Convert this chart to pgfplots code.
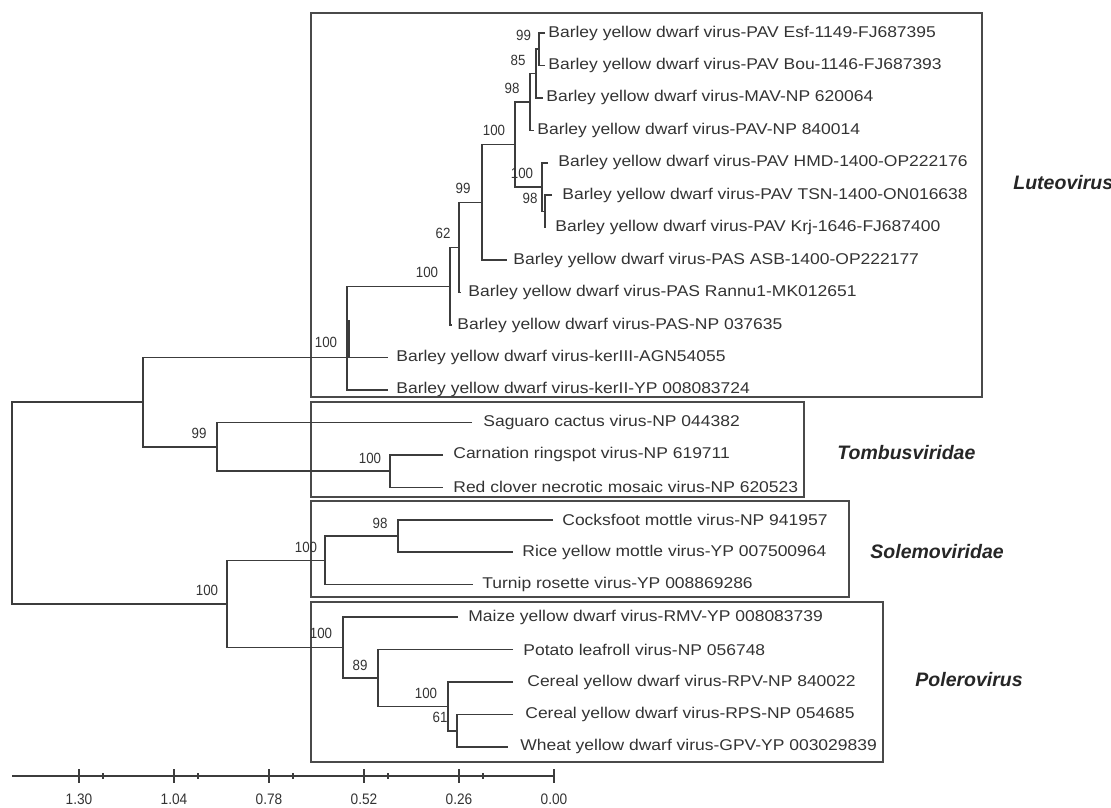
\documentclass[border=0pt]{standalone}
\usepackage{fontspec}
\setmainfont{Liberation Sans}
\newfontfamily\taxafont{Liberation Sans}[FakeStretch=1.12]
\newfontfamily\numfont{Liberation Sans}[FakeStretch=0.9]
\usepackage{pgfplots}
\pgfplotsset{compat=1.18}
\definecolor{treeline}{HTML}{3C3C3C}
\definecolor{boxline}{HTML}{4A4A4A}
\definecolor{txt}{HTML}{333333}
\pgfplotsset{
  tree/.style={draw=treeline, line width=0.8pt, mark=none, forget plot},
  cladebox/.style={draw=boxline, line width=1pt, mark=none, forget plot},
}
\tikzset{
  taxon/.style={anchor=west, inner sep=0pt, font=\taxafont\fontsize{7.8}{9}\selectfont, text=txt},
  boot/.style={inner sep=0pt, font=\numfont\fontsize{7.4}{8}\selectfont, text=txt},
  clade/.style={anchor=west, inner sep=0pt, font=\fontsize{9.75}{11}\selectfont\bfseries\itshape, text=black!85},
}
\begin{document}
\begin{tikzpicture}
\useasboundingbox (0,0) rectangle (555.5pt,403.5pt);
\begin{axis}[
  at={(0,0)}, anchor=south west,
  scale only axis, width=555.5pt, height=403.5pt,
  xmin=0, xmax=1111, ymin=0, ymax=807, y dir=reverse,
  hide axis, clip=false,
]
% clade boxes
\addplot[cladebox] coordinates {(311,13) (982,13) (982,397) (311,397)} --cycle;
\addplot[cladebox] coordinates {(311,402) (804,402) (804,497) (311,497)} --cycle;
\addplot[cladebox] coordinates {(311,501) (849,501) (849,597) (311,597)} --cycle;
\addplot[cladebox] coordinates {(311,602) (883,602) (883,762) (311,762)} --cycle;
% tree: each node drawn as child1 -> node -> child2
\addplot[tree] coordinates {(545,33) (539,33) (539,65.45) (545,65.45)};
\addplot[tree] coordinates {(539,49.2) (536,49.2) (536,97.9) (543,97.9)};
\addplot[tree] coordinates {(536,73.55) (530,73.55) (530,130.35) (534,130.35)};
\addplot[tree] coordinates {(552,195.25) (545,195.25) (545,227.7) (546,227.7)};
\addplot[tree] coordinates {(548,162.8) (542,162.8) (542,211.5) (545,211.5)};
\addplot[tree] coordinates {(530,101.95) (515,101.95) (515,187.15) (542,187.15)};
\addplot[tree] coordinates {(515,144.55) (482,144.55) (482,260.15) (507,260.15)};
\addplot[tree] coordinates {(482,202.35) (459,202.35) (459,292.6) (461,292.6)};
\addplot[tree] coordinates {(459,247.5) (450,247.5) (450,325.05) (452,325.05)};
\addplot[tree] coordinates {(450,286.3) (347,286.3) (347,389.95) (388,389.95)};
\addplot[tree] coordinates {(347,357.5) (388,357.5)};
\addplot[tree] coordinates {(349,320) (349,357.5)};
\addplot[tree] coordinates {(347,357.5) (143,357.5) (143,446.75) (217,446.75)};
\addplot[tree] coordinates {(472,422.4) (217,422.4) (217,471.1) (390,471.1)};
\addplot[tree] coordinates {(443,454.85) (390,454.85) (390,487.3) (443,487.3)};
\addplot[tree] coordinates {(143,402.1) (12,402.1) (12,603.9) (227,603.9)};
\addplot[tree] coordinates {(325,560.3) (227,560.3) (227,647.5) (343,647.5)};
\addplot[tree] coordinates {(398,535.95) (325,535.95) (325,584.65) (473,584.65)};
\addplot[tree] coordinates {(553,519.75) (398,519.75) (398,552.2) (513,552.2)};
\addplot[tree] coordinates {(458,617.1) (343,617.1) (343,677.95) (378,677.95)};
\addplot[tree] coordinates {(513,649.55) (378,649.55) (378,706.35) (448,706.35)};
\addplot[tree] coordinates {(513,682) (448,682) (448,730.7) (457,730.7)};
\addplot[tree] coordinates {(513,714.45) (457,714.45) (457,746.9) (508,746.9)};
% taxa
\node[taxon] at (axis cs:548,33) {Barley yellow dwarf virus-PAV Esf-1149-FJ687395};
\node[taxon] at (axis cs:548,65.45) {Barley yellow dwarf virus-PAV Bou-1146-FJ687393};
\node[taxon] at (axis cs:546,97.9) {Barley yellow dwarf virus-MAV-NP 620064};
\node[taxon] at (axis cs:537,130.35) {Barley yellow dwarf virus-PAV-NP 840014};
\node[taxon] at (axis cs:558,162.8) {Barley yellow dwarf virus-PAV HMD-1400-OP222176};
\node[taxon] at (axis cs:562,195.25) {Barley yellow dwarf virus-PAV TSN-1400-ON016638};
\node[taxon] at (axis cs:555,227.7) {Barley yellow dwarf virus-PAV Krj-1646-FJ687400};
\node[taxon] at (axis cs:513,260.15) {Barley yellow dwarf virus-PAS ASB-1400-OP222177};
\node[taxon] at (axis cs:468,292.6) {Barley yellow dwarf virus-PAS Rannu1-MK012651};
\node[taxon] at (axis cs:457,325.05) {Barley yellow dwarf virus-PAS-NP 037635};
\node[taxon] at (axis cs:396,357.5) {Barley yellow dwarf virus-kerIII-AGN54055};
\node[taxon] at (axis cs:396,389.95) {Barley yellow dwarf virus-kerII-YP 008083724};
\node[taxon] at (axis cs:483,422.4) {Saguaro cactus virus-NP 044382};
\node[taxon] at (axis cs:453,454.85) {Carnation ringspot virus-NP 619711};
\node[taxon] at (axis cs:453,487.3) {Red clover necrotic mosaic virus-NP 620523};
\node[taxon] at (axis cs:562,519.75) {Cocksfoot mottle virus-NP 941957};
\node[taxon] at (axis cs:522,552.2) {Rice yellow mottle virus-YP 007500964};
\node[taxon] at (axis cs:482,584.65) {Turnip rosette virus-YP 008869286};
\node[taxon] at (axis cs:468,617.1) {Maize yellow dwarf virus-RMV-YP 008083739};
\node[taxon] at (axis cs:523,649.55) {Potato leafroll virus-NP 056748};
\node[taxon] at (axis cs:527,682) {Cereal yellow dwarf virus-RPV-NP 840022};
\node[taxon] at (axis cs:525,714.45) {Cereal yellow dwarf virus-RPS-NP 054685};
\node[taxon] at (axis cs:520,746.9) {Wheat yellow dwarf virus-GPV-YP 003029839};
% bootstrap values
\node[boot] at (axis cs:523.5,35) {99};
\node[boot] at (axis cs:518,60) {85};
\node[boot] at (axis cs:512,88) {98};
\node[boot] at (axis cs:494,130) {100};
\node[boot] at (axis cs:522,173) {100};
\node[boot] at (axis cs:530,198) {98};
\node[boot] at (axis cs:463,188) {99};
\node[boot] at (axis cs:443,233) {62};
\node[boot] at (axis cs:427,272) {100};
\node[boot] at (axis cs:326,342) {100};
\node[boot] at (axis cs:199,433) {99};
\node[boot] at (axis cs:370,458) {100};
\node[boot] at (axis cs:207,590) {100};
\node[boot] at (axis cs:306,547) {100};
\node[boot] at (axis cs:380,523) {98};
\node[boot] at (axis cs:321,633) {100};
\node[boot] at (axis cs:360,665) {89};
\node[boot] at (axis cs:426,693) {100};
\node[boot] at (axis cs:440,717) {61};
% clade names
\node[clade] at (axis cs:1013,183) {Luteovirus};
\node[clade] at (axis cs:837,453) {Tombusviridae};
\node[clade] at (axis cs:870,552) {Solemoviridae};
\node[clade] at (axis cs:915,680) {Polerovirus};
\end{axis}
% scale bar
\begin{axis}[
  at={(6pt,15.5pt)}, anchor=south west,
  scale only axis, width=271pt, height=20pt,
  xmin=0, xmax=1.4834, x dir=reverse, ymin=0, ymax=1,
  axis x line=bottom, axis y line=none, ytick=\empty,
  axis line style={-, draw=treeline, line width=0.8pt},
  xtick={0,0.26,0.52,0.78,1.04,1.30},
  xticklabels={0.00,0.26,0.52,0.78,1.04,1.30},
  minor xtick={0.195,0.455,0.715,0.975,1.235},
  tick align=center, major tick length=7pt, minor tick length=3pt,
  every tick/.style={draw=treeline, line width=0.8pt},
  /pgf/number format/assume math mode=true,
  xticklabel style={font=\numfont\fontsize{7.6}{8}\selectfont, text=txt, yshift=-2pt},
]
\addplot[draw=none, mark=none, forget plot] coordinates {(0,0.5)};
\end{axis}
\end{tikzpicture}
\end{document}
